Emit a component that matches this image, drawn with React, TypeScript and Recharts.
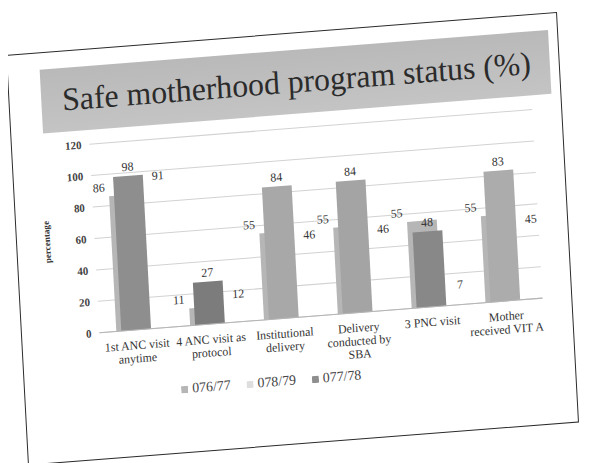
import React from "react";
import { BarChart, Bar, XAxis, YAxis, CartesianGrid, Legend, LabelList, Cell } from "recharts";

const categories = [
  "1st ANC visit\nanytime",
  "4 ANC visit as\nprotocol",
  "Institutional\ndelivery",
  "Delivery\nconducted by\nSBA",
  "3 PNC visit",
  "Mother\nreceived VIT A",
];
const y7677 = [86, 11, 55, 55, 55, 55];
const y7879 = [98, 27, 84, 84, 48, 83];
const y7778 = [91, 12, 46, 46, 7, 45];
const yTicks = [0, 20, 40, 60, 80, 100, 120];

// photocopied shades of the middle bars
const midShades = ["#8e8e8e", "#7c7c7c", "#a8a8a8", "#a4a4a4", "#888888", "#acacac"];

const data = categories.map((name, i) => ({
  name,
  a: y7677[i],
  b: y7879[i],
  c: y7778[i],
}));

const SERIF = "'Liberation Serif'";

function CatTick({ x, y, payload }: any) {
  const lines = String(payload.value).split("\n");
  return (
    <text x={x} y={y + 11} textAnchor="middle" fontSize={12} fill="#333" style={{ fontFamily: SERIF }}>
      {lines.map((l, i) => (
        <tspan key={i} x={x} dy={i === 0 ? 0 : 13}>{l}</tspan>
      ))}
    </text>
  );
}

const valueLabel = (dx: number) => (p: any) => {
  const x = Number(p.x) + Number(p.width) / 2 + dx;
  return (
    <text x={x} y={Number(p.y) - 5} textAnchor="middle" fontSize={12} fill="#333" style={{ fontFamily: SERIF }}>
      {p.value}
    </text>
  );
};

export default function App() {
  return (
    <div style={{ position: "relative", width: 594, height: 463, margin: "-8px 0 0 -8px", overflow: "hidden", background: "#fff", fontFamily: SERIF }}>
      <div
        style={{
          position: "absolute",
          left: 6,
          top: 55,
          width: 556,
          height: 405,
          border: "1.5px solid #2a2a2a",
          boxSizing: "border-box",
          background: "#fff",
          transformOrigin: "0 0",
          transform: "matrix(0.991, -0.0775, 0.0543, 1.0136, 0, 0)",
        }}
      >
        <div
          style={{
            position: "absolute",
            left: 32,
            top: 16,
            width: 513,
            height: 63,
            background: "linear-gradient(180deg, #b9b9b9, #c4c4c4)",
            fontFamily: SERIF,
            fontSize: 32,
            color: "#2b2b2b",
            lineHeight: "63px",
            paddingLeft: 21,
            boxSizing: "border-box",
            whiteSpace: "nowrap",
          }}
        >
          Safe motherhood program status (%)
        </div>
        <div style={{ position: "absolute", left: 0, top: 80 }}>
          <BarChart
            width={561}
            height={300}
            data={data}
            margin={{ top: 13, right: 36, left: 20, bottom: 5 }}
            barSize={30}
            barGap={-25}
            barCategoryGap={0}
            style={{ fontFamily: SERIF }}
          >
            <CartesianGrid vertical={false} stroke="#d2d2d2" />
            <XAxis
              dataKey="name"
              interval={0}
              height={58}
              tick={<CatTick />}
              tickLine={false}
              axisLine={{ stroke: "#b5b5b5" }}
            />
            <YAxis
              domain={[0, 120]}
              ticks={yTicks}
              width={58}
              tickLine={false}
              axisLine={false}
              tick={{ fontSize: 11, fontWeight: "bold", fill: "#444", style: { fontFamily: SERIF } }}
              label={{ value: "percentage", angle: -90, position: "insideLeft", offset: 10, style: { fontSize: 9, fontWeight: "bold", fill: "#333", fontFamily: SERIF, textAnchor: "middle" } }}
            />
            <Legend
              iconType="square"
              iconSize={7}
              itemSorter="dataKey"
              wrapperStyle={{ top: 253, left: 116, width: 280, fontFamily: SERIF, fontSize: 14 }}
              formatter={(v) => <span style={{ color: "#444", marginRight: 6 }}>{v}</span>}
            />
            <Bar dataKey="a" name="076/77" fill="#b6b6b6" isAnimationActive={false}>
              <LabelList dataKey="a" content={valueLabel(-25)} />
            </Bar>
            <Bar dataKey="b" name="078/79" fill="#dedede" isAnimationActive={false}>
              {data.map((_, i) => (
                <Cell key={i} fill={midShades[i]} />
              ))}
              <LabelList dataKey="b" content={valueLabel(0)} />
            </Bar>
            <Bar dataKey="c" name="077/78" fill="#8e8e8e" fillOpacity={0} isAnimationActive={false}>
              <LabelList dataKey="c" content={valueLabel(25)} />
            </Bar>
          </BarChart>
        </div>
      </div>
    </div>
  );
}
